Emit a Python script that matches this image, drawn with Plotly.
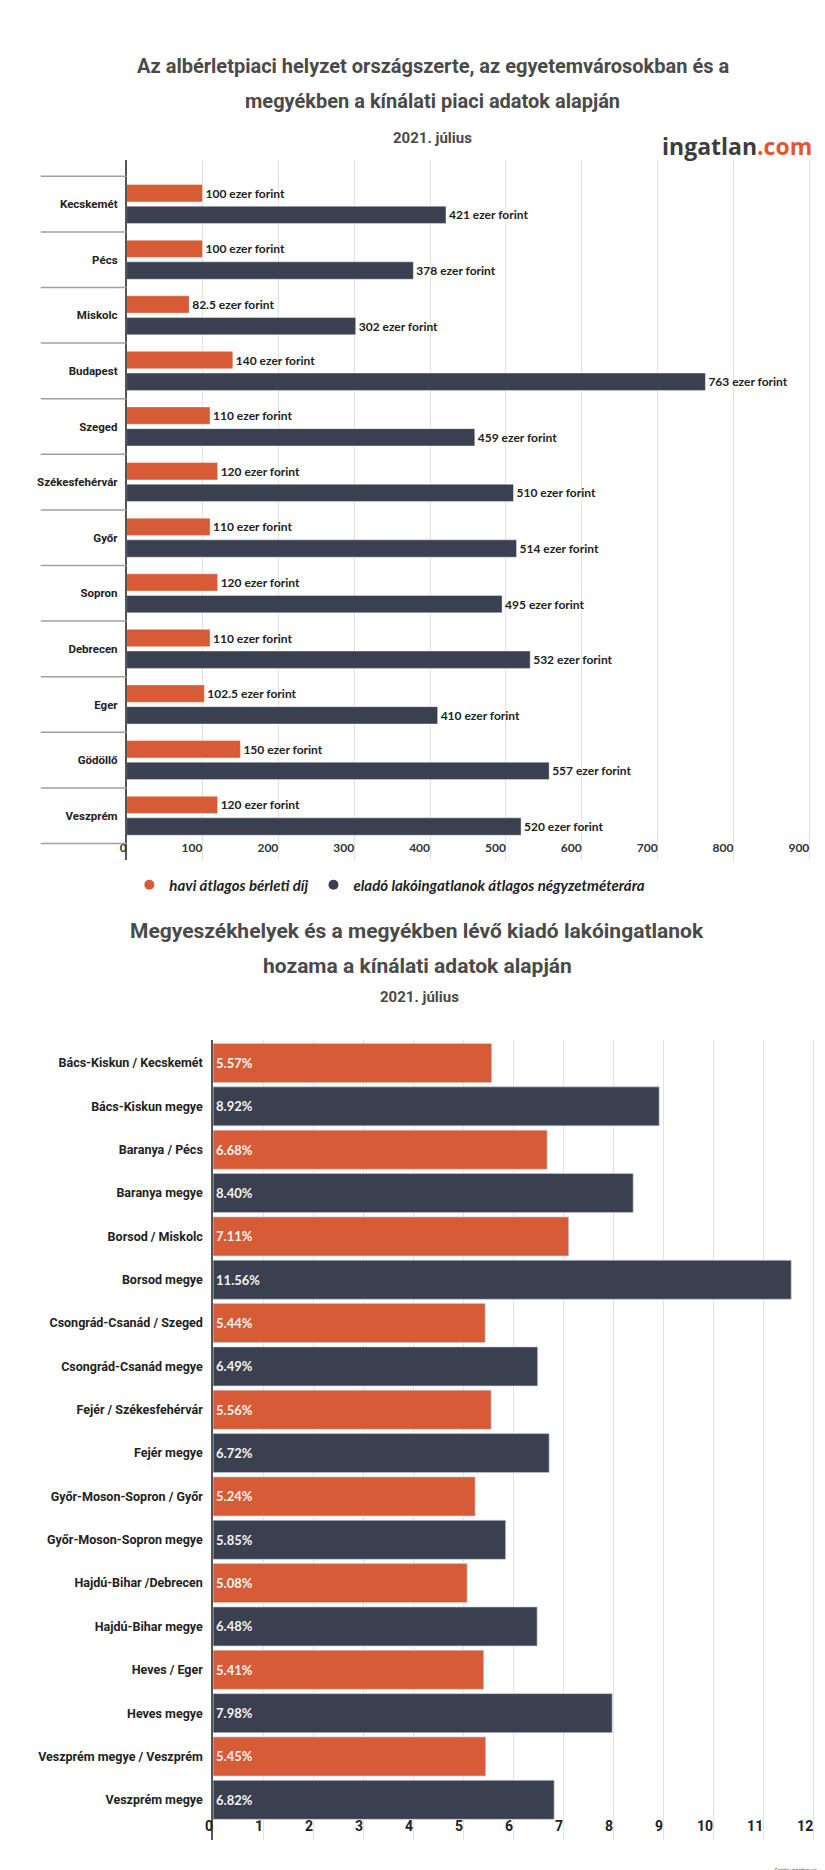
import plotly.graph_objects as go

W, H = 825, 1870

# ---------------- data: chart 1 ----------------
cities = ["Kecskemét", "Pécs", "Miskolc", "Budapest", "Szeged", "Székesfehérvár",
          "Győr", "Sopron", "Debrecen", "Eger", "Gödöllő", "Veszprém"]
rent_k = [100, 100, 82.5, 140, 110, 120, 110, 120, 110, 102.5, 150, 120]
price_k = [421, 378, 302, 763, 459, 510, 514, 495, 532, 410, 557, 520]
series1_names = ["havi átlagos bérleti díj", "eladó lakóingatlanok átlagos négyzetméterára"]
ticks1 = [0, 100, 200, 300, 400, 500, 600, 700, 800, 900]

# ---------------- data: chart 2 ----------------
regions = ["Bács-Kiskun / Kecskemét", "Bács-Kiskun megye", "Baranya / Pécs", "Baranya megye",
           "Borsod / Miskolc", "Borsod megye", "Csongrád-Csanád / Szeged", "Csongrád-Csanád megye",
           "Fejér / Székesfehérvár", "Fejér megye", "Győr-Moson-Sopron / Győr",
           "Győr-Moson-Sopron megye", "Hajdú-Bihar /Debrecen", "Hajdú-Bihar megye",
           "Heves / Eger", "Heves megye", "Veszprém megye / Veszprém", "Veszprém megye"]
yields = [5.57, 8.92, 6.68, 8.40, 7.11, 11.56, 5.44, 6.49, 5.56, 6.72, 5.24, 5.85,
          5.08, 6.48, 5.41, 7.98, 5.45, 6.82]
region_kind = ["city", "county"] * 9
ticks2 = list(range(0, 13))

# ---------------- styles ----------------
ORANGE = "#d65b36"
DARK = "#3a4050"
kind_color = {"city": ORANGE, "county": DARK}
TITLE_C = "#4a4a4a"
TXT = "#222222"
GRID = "#e3e3e3"


def px_x(p):
    return p / W


def px_y(p):
    return 1 - p / H


# plot-area pixel boxes
c1 = dict(l=111.7, r=812, t=152, b=852)
c2 = dict(l=199, r=812, t=1031.7, b=1831.7)

fig = go.Figure()

fig.add_trace(go.Bar(
    y=cities, x=rent_k, orientation="h", name=series1_names[0],
    marker=dict(color=ORANGE, line=dict(color="rgba(255,255,255,0.5)", width=0.8)),
    texttemplate="%{x} ezer forint", textposition="outside", cliponaxis=False,
    textfont=dict(family="Lato", size=12, color=TXT, weight="bold"),
    showlegend=False, xaxis="x", yaxis="y"))
fig.add_trace(go.Bar(
    y=cities, x=price_k, orientation="h", name=series1_names[1],
    marker=dict(color=DARK, line=dict(color="rgba(255,255,255,0.5)", width=0.8)),
    texttemplate="%{x} ezer forint", textposition="outside", cliponaxis=False,
    textfont=dict(family="Lato", size=12, color=TXT, weight="bold"),
    showlegend=False, xaxis="x", yaxis="y"))

# legend entries (round dots like the original)
for nm, col in zip(series1_names, [ORANGE, DARK]):
    fig.add_trace(go.Scatter(x=[None], y=[None], mode="markers", name=nm,
                             marker=dict(color=col, size=10, symbol="circle"),
                             xaxis="x", yaxis="y", showlegend=True))

fig.add_trace(go.Bar(
    y=regions, x=yields, orientation="h", width=0.9,
    marker=dict(color=[kind_color[k] for k in region_kind],
                line=dict(color="rgba(200,205,215,0.8)", width=0.8)),
    texttemplate="%{x:.2f}%", textposition="inside", insidetextanchor="start",
    textfont=dict(family="Lato", size=13, color="#f7f3f0", weight="bold"),
    showlegend=False, xaxis="x2", yaxis="y2"))

# separator lines in the category column of chart 1
shapes = []
for i in range(len(cities) + 1):
    shapes.append(dict(type="line", xref="paper", yref="y",
                       x0=px_x(25), x1=px_x(c1["l"]), y0=i - 0.5, y1=i - 0.5,
                       line=dict(color="#a0a0a0", width=1.5)))

annotations = [
    dict(text="Az albérletpiaci helyzet országszerte, az egyetemvárosokban és a",
         x=px_x(421), y=px_y(58), font=dict(family="Roboto", size=20, color=TITLE_C, weight="bold")),
    dict(text="megyékben a kínálati piaci adatok alapján",
         x=px_x(421), y=px_y(93), font=dict(family="Roboto", size=20, color=TITLE_C, weight="bold")),
    dict(text="2021. július",
         x=px_x(421), y=px_y(130), font=dict(family="Roboto", size=15, color=TITLE_C, weight="bold")),
    dict(text="ingatlan<span style='color:#e8552b'>.com</span>",
         x=px_x(806), y=px_y(138), xanchor="right",
         font=dict(family="Open Sans", size=23, color="#3d3d3d", weight="bold")),
    dict(text="Megyeszékhelyek és a megyékben lévő kiadó lakóingatlanok",
         x=px_x(405), y=px_y(923), font=dict(family="Roboto", size=21, color=TITLE_C, weight="bold")),
    dict(text="hozama a kínálati adatok alapján",
         x=px_x(405), y=px_y(958), font=dict(family="Roboto", size=21, color=TITLE_C, weight="bold")),
    dict(text="2021. július",
         x=px_x(407), y=px_y(989), font=dict(family="Roboto", size=15, color=TITLE_C, weight="bold")),
    dict(text="Forrás: ingatlan.com",
         x=px_x(815), y=px_y(1862), xanchor="right",
         font=dict(family="Roboto", size=5, color="#555555")),
]
for a in annotations:
    a.setdefault("xref", "paper")
    a.setdefault("yref", "paper")
    a.setdefault("xanchor", "center")
    a.setdefault("yanchor", "middle")
    a["showarrow"] = False

axis_common = dict(showgrid=True, gridcolor=GRID, gridwidth=1, zeroline=False,
                   showline=False, ticks="", ticklabelposition="inside left",
                   ticklabeloverflow="allow", fixedrange=True)

fig.update_layout(
    width=W, height=H, autosize=False,
    margin=dict(l=0, r=0, t=0, b=0),
    paper_bgcolor="white", plot_bgcolor="white",
    barmode="group", bargap=0.22, bargroupgap=0.2,
    xaxis=dict(domain=[px_x(c1["l"]), px_x(c1["r"])], anchor="y",
               range=[0, (c1["r"] - c1["l"]) / 0.766], tickvals=ticks1,
               tickfont=dict(family="Lato", size=12, color="#333333", weight="bold"),
               **axis_common),
    yaxis=dict(domain=[px_y(c1["b"]), px_y(c1["t"])], anchor="x",
               type="category", categoryorder="array", categoryarray=cities,
               range=[11.797, -0.793], showgrid=False, zeroline=False,
               showline=True, linecolor="#555555", linewidth=1.5,
               ticks="", ticklabelstandoff=5,
               tickfont=dict(family="Roboto", size=11.5, color=TXT, weight="bold")),
    xaxis2=dict(domain=[px_x(c2["l"]), px_x(c2["r"])], anchor="y2",
                range=[0, (c2["r"] - c2["l"]) / 50.5], tickvals=ticks2,
                tickfont=dict(family="Roboto", size=14, color=TXT, weight="bold"),
                **axis_common),
    yaxis2=dict(domain=[px_y(c2["b"]), px_y(c2["t"])], anchor="x2",
                type="category", categoryorder="array", categoryarray=regions,
                range=[17.92, -0.538], showgrid=False, zeroline=False,
                showline=True, linecolor="#555555", linewidth=1.5,
                ticks="", ticklabelstandoff=6,
                tickfont=dict(family="Roboto", size=12.5, color=TXT, weight="bold")),
    legend=dict(orientation="h", x=0.4576, xanchor="center", y=px_y(877), yanchor="middle",
                font=dict(family="Lato", size=15, color=TXT, weight="bold", style="italic"),
                itemwidth=30, bgcolor="rgba(0,0,0,0)"),
    shapes=shapes, annotations=annotations,
)

fig.write_html("out.html")
